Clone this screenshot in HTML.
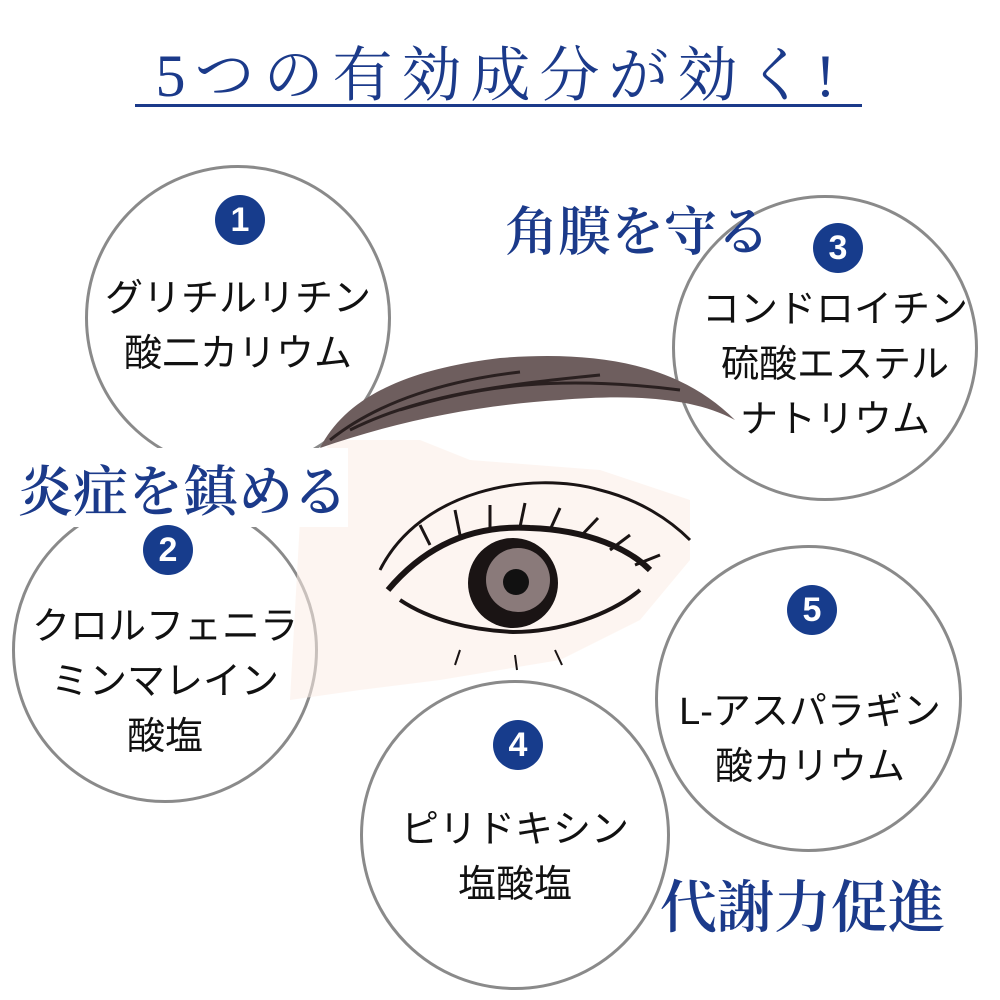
<!DOCTYPE html>
<html><head><meta charset="utf-8"><style>
body{margin:0;width:1000px;height:1000px;background:#fff;overflow:hidden;position:relative;font-family:"Liberation Sans","Noto Sans CJK JP",sans-serif}
.t{position:absolute;font-family:"Liberation Serif","Noto Serif CJK SC",serif;color:#1b3a8a;white-space:nowrap;font-weight:600}
.c{position:absolute;border:3px solid #8a8a8a;border-radius:50%;background:#fff;box-sizing:border-box}
.n{position:absolute;width:50px;height:50px;border-radius:50%;background:#173c8c;color:#fff;font-weight:bold;font-size:34px;line-height:50px;text-align:center}
.l{position:absolute;font-size:38px;line-height:55px;text-align:center;color:#111;white-space:nowrap;transform:translateX(-50%);font-weight:normal}
</style></head><body>
<div class="t" style="left:0;width:1000px;top:28px;text-align:center;font-size:60px;letter-spacing:9px;font-weight:normal">5つの有効成分が効く!</div>
<div style="position:absolute;left:135px;top:104px;width:727px;height:3px;background:#1b3a8a"></div>

<div class="c" style="left:85px;top:165px;width:306px;height:306px"></div>
<div class="c" style="left:12px;top:497px;width:306px;height:306px"></div>
<div class="c" style="left:672px;top:195px;width:306px;height:306px"></div>
<div class="c" style="left:360px;top:680px;width:310px;height:310px"></div>
<div class="c" style="left:655px;top:545px;width:307px;height:307px"></div>

<svg style="position:absolute;left:0;top:0" width="1000" height="1000">
<path d="M330,440 L300,520 L290,700 L360,690 L440,680 L560,660 L640,620 L690,560 L690,500 L600,470 L470,460 L420,440 Z" fill="#fbece6" opacity="0.55"/>
<path d="M320,448 C345,400 400,370 500,358 C600,350 680,365 735,420 C690,395 620,395 560,400 C480,405 400,420 320,448 Z" fill="#6e5e5e"/>
<path d="M330,440 C380,400 450,380 520,372 M350,430 C420,395 500,385 600,375 M400,410 C480,385 560,375 680,390" stroke="#2a2020" stroke-width="3" fill="none"/>
<path d="M380,570 C420,490 530,470 600,490 C640,500 670,520 690,540" stroke="#1a1414" stroke-width="3" fill="none"/>
<path d="M388,590 C430,540 480,525 530,528 C590,530 630,550 650,570" stroke="#1a1414" stroke-width="6" fill="none"/>
<path d="M400,600 C430,620 470,630 513,632 C560,632 610,615 640,590" stroke="#1a1414" stroke-width="4" fill="none"/>
<clipPath id="e"><path d="M388,590 C430,540 480,525 530,528 C590,530 630,550 650,570 L640,590 C610,615 560,632 513,632 C470,630 430,620 400,600 Z"/></clipPath>
<g clip-path="url(#e)"><circle cx="513" cy="583" r="45" fill="#1a1414"/><circle cx="518" cy="580" r="32" fill="#8a7a7a"/><circle cx="516" cy="582" r="13" fill="#111"/></g>
<g stroke="#1a1414" stroke-width="3"><line x1="430" y1="545" x2="420" y2="525"/><line x1="460" y1="535" x2="455" y2="510"/><line x1="490" y1="528" x2="490" y2="505"/><line x1="520" y1="527" x2="525" y2="503"/><line x1="550" y1="530" x2="560" y2="508"/><line x1="580" y1="537" x2="598" y2="518"/><line x1="610" y1="550" x2="630" y2="535"/><line x1="635" y1="565" x2="660" y2="555"/>
<line x1="460" y1="650" x2="455" y2="665" stroke-width="2"/><line x1="515" y1="655" x2="517" y2="670" stroke-width="2"/><line x1="555" y1="650" x2="562" y2="665" stroke-width="2"/></g>
</svg>

<div class="t" style="left:505px;top:190px;font-size:53px">角膜を守る</div>
<div class="t" style="left:18px;top:448px;font-size:55px;background:#fff">炎症を鎮める</div>
<div class="t" style="left:660px;top:862px;font-size:57px">代謝力促進</div>

<div class="n" style="left:215px;top:195px">1</div>
<div class="n" style="left:143px;top:525px">2</div>
<div class="n" style="left:813px;top:223px">3</div>
<div class="n" style="left:493px;top:720px">4</div>
<div class="n" style="left:787px;top:585px">5</div>

<div class="l" style="left:238px;top:272px">グリチルリチン<br>酸二カリウム</div>
<div class="l" style="left:165px;top:600px">クロルフェニラ<br>ミンマレイン<br>酸塩</div>
<div class="l" style="left:835px;top:283px">コンドロイチン<br>硫酸エステル<br>ナトリウム</div>
<div class="l" style="left:515px;top:803px">ピリドキシン<br>塩酸塩</div>
<div class="l" style="left:810px;top:685px">L-アスパラギン<br>酸カリウム</div>
</body></html>
